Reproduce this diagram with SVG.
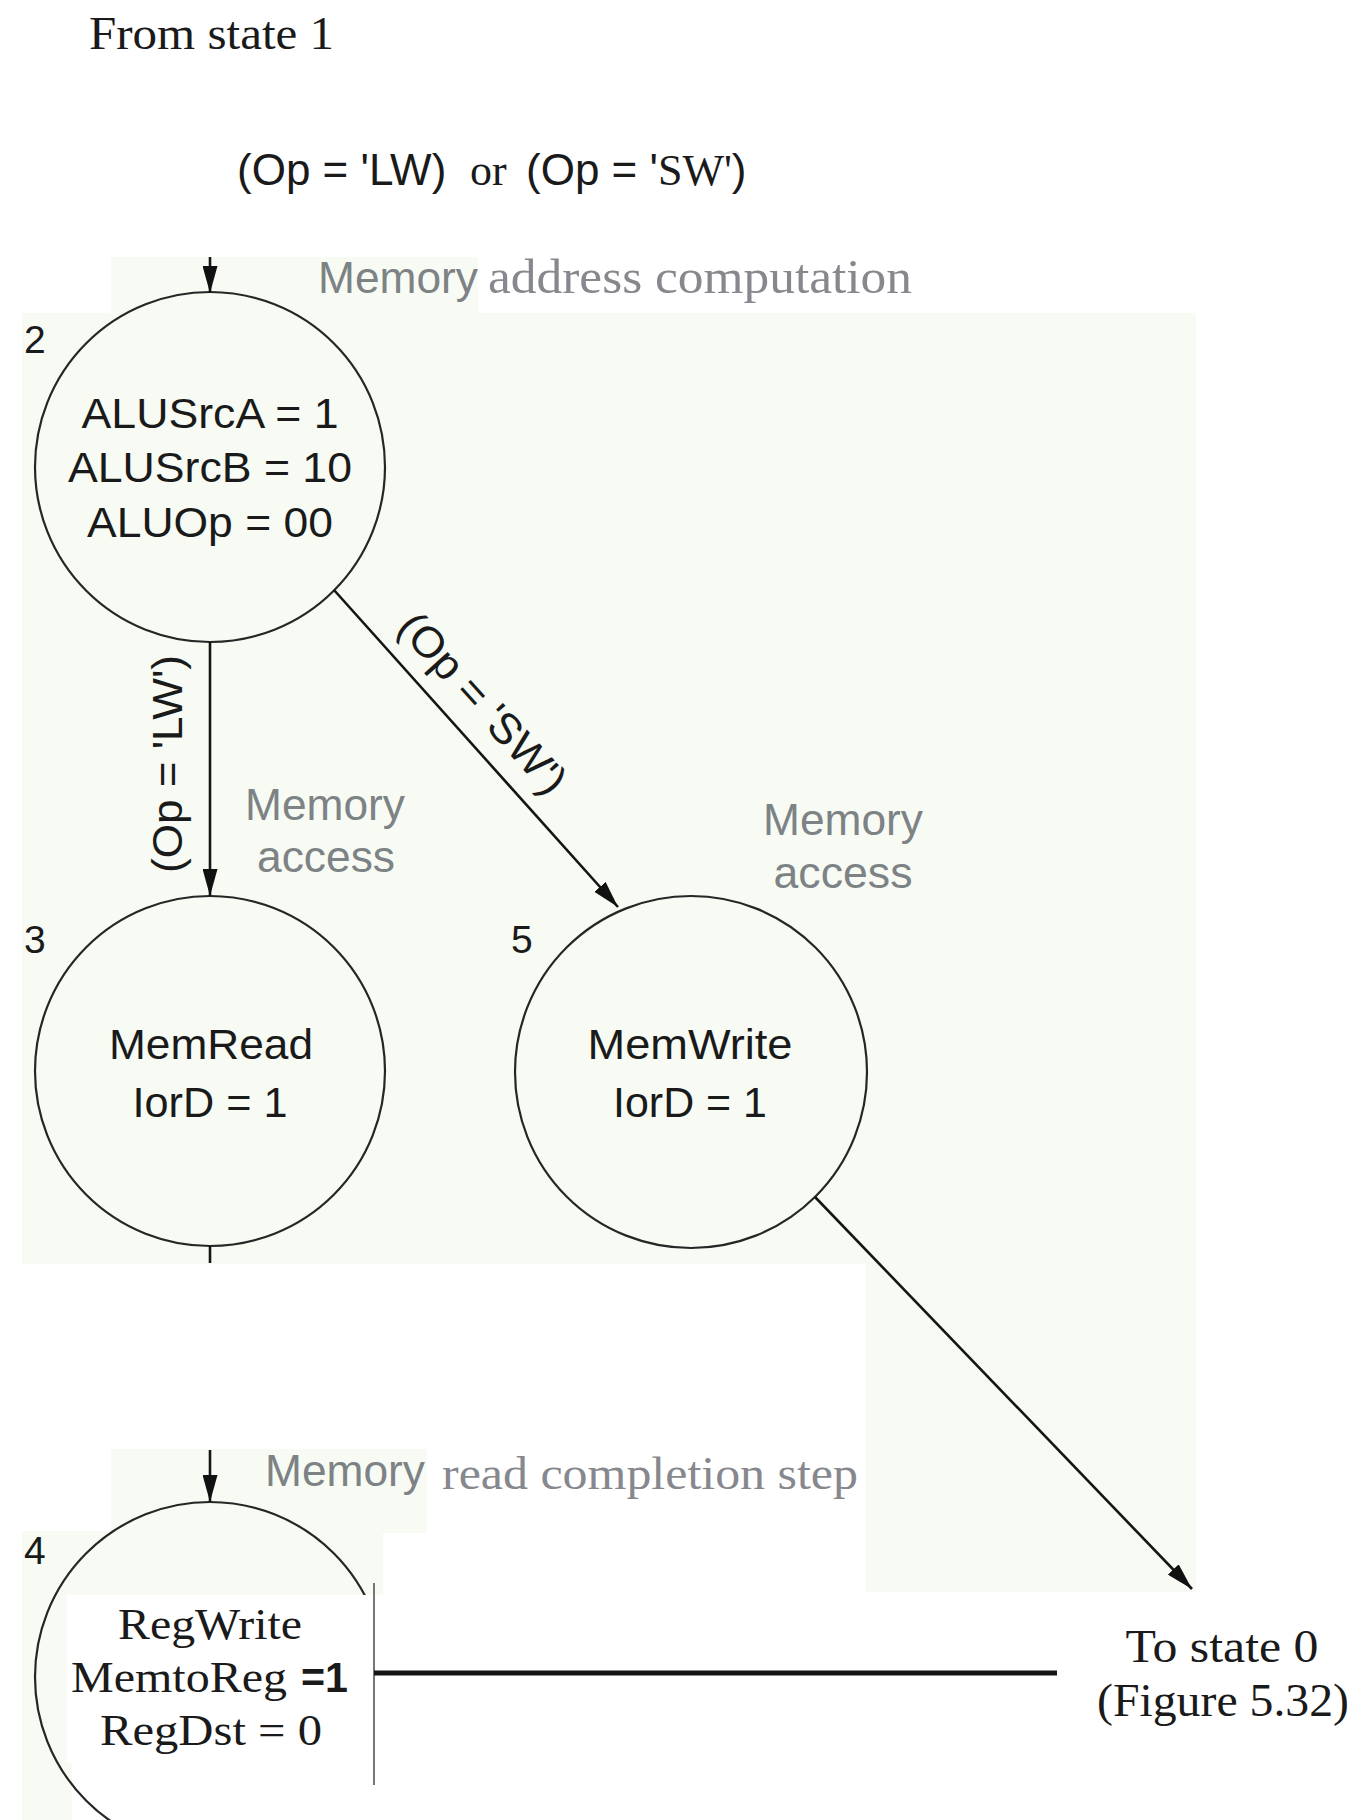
<svg xmlns="http://www.w3.org/2000/svg" width="1359" height="1820" viewBox="0 0 1359 1820">
<defs>
<marker id="ah" markerUnits="userSpaceOnUse" markerWidth="27" markerHeight="15" refX="27" refY="7.5" orient="auto"><path d="M0,0 L27,7.5 L0,15 z" fill="#111"/></marker>
<style>
.bg{fill:#f7fbf4}
.node{fill:none;stroke:#262626;stroke-width:2.2}
.sans{font-family:"Liberation Sans",Arial,sans-serif}
.serif{font-family:"Liberation Serif","Times New Roman",serif}
.txt{fill:#1a1a1a}
.gray{fill:#7d8285}
.gray2{fill:#86888d}
.num{font-family:"Liberation Sans",Arial,sans-serif;font-size:39px;fill:#1a1a1a}
.conn{stroke:#151515;stroke-width:2.6;fill:none}
.thick{stroke-width:5}
</style>
</defs>
<rect width="1359" height="1820" fill="#ffffff"/>
<g id="background">
<rect class="bg" x="111" y="257" width="367" height="70"/>
<rect class="bg" x="22" y="313" width="1174" height="951"/>
<rect class="bg" x="866" y="1263" width="330" height="329"/>
<rect class="bg" x="111" y="1449" width="316" height="84"/>
<rect class="bg" x="22" y="1531" width="361" height="64"/>
<rect class="bg" x="22" y="1594" width="50" height="226"/>
</g>
<text class="serif txt" x="89" y="49" font-size="46" textLength="245" lengthAdjust="spacingAndGlyphs">From state 1</text>
<text y="185" font-size="44" class="txt"><tspan class="sans" x="237">(Op = 'LW)</tspan> <tspan class="serif" x="470">or</tspan> <tspan class="sans" x="526">(Op = '</tspan><tspan class="serif">SW'</tspan><tspan class="sans">)</tspan></text>
<text y="293"><tspan class="sans gray" x="318" font-size="44" textLength="160" lengthAdjust="spacingAndGlyphs">Memory</tspan> <tspan class="serif gray2" x="488" font-size="48" textLength="424" lengthAdjust="spacingAndGlyphs">address computation</tspan></text>
<g id="node2">
<circle class="node" cx="210" cy="467" r="175"/>
<text class="num" x="24" y="353">2</text>
<text class="sans txt" font-size="42" text-anchor="middle" x="210" y="428" textLength="257" lengthAdjust="spacingAndGlyphs">ALUSrcA = 1</text>
<text class="sans txt" font-size="42" text-anchor="middle" x="210" y="482" textLength="284" lengthAdjust="spacingAndGlyphs">ALUSrcB = 10</text>
<text class="sans txt" font-size="42" text-anchor="middle" x="210" y="537" textLength="246" lengthAdjust="spacingAndGlyphs">ALUOp = 00</text>
</g>
<text class="sans txt" font-size="43" text-anchor="middle" transform="translate(182,764) rotate(-90)" textLength="218" lengthAdjust="spacingAndGlyphs">(Op = 'LW')</text>
<text class="sans txt" font-size="43" text-anchor="middle" transform="translate(472,713) rotate(48)" textLength="228" lengthAdjust="spacingAndGlyphs">(Op = 'SW')</text>
<text class="sans gray" font-size="44" text-anchor="middle"><tspan x="325" y="820" textLength="160" lengthAdjust="spacingAndGlyphs">Memory</tspan><tspan x="326" y="872" textLength="138" lengthAdjust="spacingAndGlyphs">access</tspan></text>
<text class="sans gray" font-size="44" text-anchor="middle"><tspan x="843" y="835" textLength="160" lengthAdjust="spacingAndGlyphs">Memory</tspan><tspan x="843" y="888" textLength="139" lengthAdjust="spacingAndGlyphs">access</tspan></text>
<g id="node3">
<circle class="node" cx="210" cy="1071" r="175"/>
<text class="num" x="24" y="953">3</text>
<text class="sans txt" font-size="42" text-anchor="middle" x="211" y="1059" textLength="204" lengthAdjust="spacingAndGlyphs">MemRead</text>
<text class="sans txt" font-size="42" text-anchor="middle" x="210" y="1117" textLength="155" lengthAdjust="spacingAndGlyphs">IorD = 1</text>
</g>
<g id="node5">
<circle class="node" cx="691" cy="1072" r="176"/>
<text class="num" x="511" y="953">5</text>
<text class="sans txt" font-size="42" text-anchor="middle" x="690" y="1059" textLength="205" lengthAdjust="spacingAndGlyphs">MemWrite</text>
<text class="sans txt" font-size="42" text-anchor="middle" x="690" y="1117" textLength="154" lengthAdjust="spacingAndGlyphs">IorD = 1</text>
</g>
<text y="1486"><tspan class="sans gray" x="265" font-size="44" textLength="160" lengthAdjust="spacingAndGlyphs">Memory</tspan> <tspan class="serif gray2" x="442" y="1489" font-size="46" textLength="416" lengthAdjust="spacingAndGlyphs">read completion step</tspan></text>
<g id="node4">
<circle class="node" cx="210" cy="1677" r="175"/>
<path d="M67,1595 H392 V1820 H118 V1763 H67 Z" fill="#ffffff"/>
<line x1="374" y1="1583" x2="374" y2="1785" stroke="#555" stroke-width="1.6"/>
<text class="num" x="24" y="1564">4</text>
<text class="serif txt" font-size="44" text-anchor="middle" x="210" y="1639" textLength="184" lengthAdjust="spacingAndGlyphs">RegWrite</text>
<text class="serif txt" font-size="44" y="1692"><tspan x="71" textLength="216" lengthAdjust="spacingAndGlyphs">MemtoReg</tspan> <tspan class="sans" font-weight="bold" x="301" font-size="42" textLength="47" lengthAdjust="spacingAndGlyphs">=1</tspan></text>
<text class="serif txt" font-size="44" text-anchor="middle" x="211" y="1745" textLength="222" lengthAdjust="spacingAndGlyphs">RegDst = 0</text>
</g>
<g id="state0">
<text class="serif txt" font-size="46" text-anchor="middle" x="1222" y="1662" textLength="193" lengthAdjust="spacingAndGlyphs">To state 0</text>
<text class="serif txt" font-size="46" text-anchor="middle" x="1223" y="1716" textLength="252" lengthAdjust="spacingAndGlyphs">(Figure 5.32)</text>
</g>
<g id="connectors">
<line class="conn" x1="210" y1="257" x2="210" y2="293" marker-end="url(#ah)"/>
<line class="conn" x1="210" y1="642" x2="210" y2="896" marker-end="url(#ah)"/>
<line class="conn" x1="334" y1="590" x2="618" y2="907" marker-end="url(#ah)"/>
<line class="conn" x1="210" y1="1246" x2="210" y2="1263"/>
<line class="conn" x1="815" y1="1197" x2="1192" y2="1589" marker-end="url(#ah)"/>
<line class="conn" x1="210" y1="1450" x2="210" y2="1502" marker-end="url(#ah)"/>
<line class="conn thick" x1="374" y1="1673" x2="1057" y2="1673"/>
</g>
</svg>
